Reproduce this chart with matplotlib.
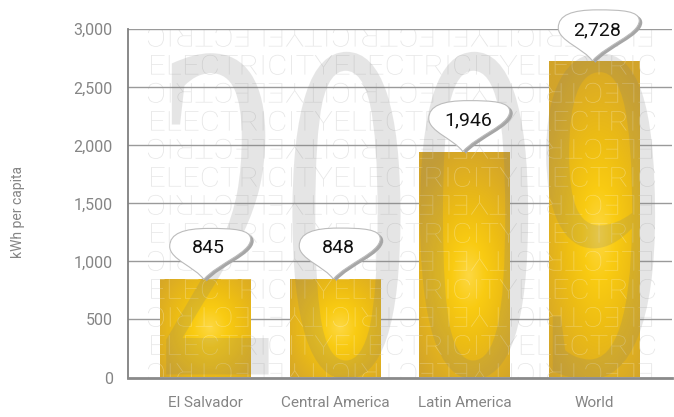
import numpy as np
import matplotlib
matplotlib.use("Agg")
import matplotlib.pyplot as plt
from matplotlib.path import Path
from matplotlib.patches import PathPatch
from matplotlib.textpath import TextPath
from matplotlib.font_manager import FontProperties
from matplotlib.colors import LinearSegmentedColormap
import matplotlib.transforms as mtransforms

categories = ["El Salvador", "Central America", "Latin America", "World"]
values = [845, 848, 1946, 2728]
yticks = [0, 500, 1000, 1500, 2000, 2500, 3000]
ytick_labels = ["0", "500", "1,000", "1,500", "2,000", "2,500", "3,000"]
value_labels = ["845", "848", "1,946", "2,728"]
ylabel = "kWh per capita"
watermark_word = "ELECTRICITY"
watermark_year = "2009"

plt.rcParams["font.family"] = ["Roboto", "DejaVu Sans"]

fig = plt.figure(figsize=(6.74, 4.17), dpi=100)
ax = fig.add_axes([128 / 674, 39.5 / 417, 544 / 674, 348.2 / 417])
ax.set_xlim(-0.6, 3.6)
ax.set_ylim(0, 3000)

gray = "#858585"
x = np.arange(len(categories))
bar_w = 0.70

# fit a path into a box given in data coords
def fit_path(path, x0, x1, y0, y1):
    v = path.vertices.copy()
    mn = v.min(axis=0)
    mx = v.max(axis=0)
    v[:, 0] = x0 + (v[:, 0] - mn[0]) / (mx[0] - mn[0]) * (x1 - x0)
    v[:, 1] = y0 + (v[:, 1] - mn[1]) / (mx[1] - mn[1]) * (y1 - y0)
    return Path(v, path.codes)

# background "ELECTRICITY" rows (normal and upside-down)
px = 1 / 0.116  # data units per pixel, vertically
wfont = FontProperties(family="Roboto", weight="light")
row_text = watermark_word * 2 + watermark_word[:8]
rows = []
tp = TextPath((0, 0), row_text, size=20, prop=wfont)
tp_flip = Path(-tp.vertices, tp.codes)
xa = (148 - 128) / 129.5 - 0.6
xb = (655 - 128) / 129.5 - 0.6
for k in range(13):
    yc_px = 37 + 28 * k
    yc = (377.5 - yc_px) * px
    src = tp if k % 2 == 1 else tp_flip
    rows.append(fit_path(src, xa, xb, yc - 10 * px, yc + 10 * px))
word_path = Path.make_compound_path(*rows)
ax.add_patch(PathPatch(word_path, facecolor="#e6e6e6", edgecolor="none", zorder=0.5))

# gridlines
for t in yticks[1:]:
    ax.axhline(t, color="#9a9a9a", lw=1.0, zorder=1)

# bars with gradient fill
cmap = LinearSegmentedColormap.from_list(
    "gold", ["#d2a42a", "#e0b020", "#edbd14", "#f9cb12", "#fdd843"])
bars = ax.bar(x, values, width=bar_w, color="none", edgecolor="none", zorder=2)
for b, v in zip(bars, values):
    bx = b.get_x()
    h_px = v * 0.116
    ny = max(int(h_px), 2)
    yy, xx = np.mgrid[0:1:ny * 1j, 0:1:90j]
    cy = 0.5 if h_px < 150 else 0.45
    ry = max(0.6, 80 / h_px)
    r = np.sqrt(((xx - 0.55) / 0.75) ** 2 + ((yy - cy) / ry) ** 2)
    z = np.clip(1 - r, 0, 1)
    im = ax.imshow(z, cmap=cmap, vmin=0, vmax=1, origin="lower", aspect="auto",
                   extent=(bx, bx + bar_w, 0, v), zorder=2, interpolation="bilinear")
    im.set_clip_path(b)
    over = PathPatch(word_path, facecolor="white", edgecolor="none", alpha=0.28, zorder=2.5)
    ax.add_patch(over)
    over.set_clip_path(b)

# big year, tinting what lies beneath
yfont = FontProperties(family="Liberation Serif")
yp = TextPath((0, 0), watermark_year, size=100, prop=yfont)
year_path = fit_path(yp, (155 - 128) / 129.5 - 0.6, (655 - 128) / 129.5 - 0.6,
                     -15, (377.5 - 52) * px)
ax.add_patch(PathPatch(year_path, facecolor="#7a7a7a", edgecolor="none", alpha=0.19, zorder=3))

# speech bubbles
V, C = Path.MOVETO, Path.CURVE4
bub_verts = [(0, 0),
             (-8, 12), (-34, 20), (-34, 33),
             (-34, 46), (-20, 51), (5, 51),
             (30, 51), (47, 50), (47, 40),
             (46, 26), (14, 16), (0, 0)]
bub_codes = [V] + [C] * 12
bubble = Path(bub_verts, bub_codes)
for xi, v, lab in zip(x, values, value_labels):
    tr = mtransforms.Affine2D().translate(-2, 0) + \
        mtransforms.ScaledTranslation(xi, v, ax.transData)
    sh = PathPatch(bubble, transform=mtransforms.Affine2D().translate(3, -2) + tr,
                   facecolor="#a6a6a6", edgecolor="none", zorder=4, clip_on=False)
    ax.add_patch(sh)
    bp = PathPatch(bubble, transform=tr, facecolor="white", edgecolor="#bcbcbc",
                   lw=0.8, zorder=5, clip_on=False)
    ax.add_patch(bp)
    ax.annotate(lab, (xi, v), xytext=(3, 31), textcoords="offset pixels",
                ha="center", va="center", fontsize=14, color="#111111",
                zorder=6, annotation_clip=False)

# axes styling
for s in ["top", "right"]:
    ax.spines[s].set_visible(False)
ax.spines["left"].set_color("#808080")
ax.spines["left"].set_linewidth(1.3)
ax.spines["bottom"].set_color("#8a8a8a")
ax.spines["bottom"].set_linewidth(2)
ax.spines["left"].set_zorder(6)
ax.spines["bottom"].set_zorder(6)
ax.set_yticks(yticks)
ax.set_yticklabels(ytick_labels)
ax.set_xticks(x)
ax.set_xticklabels(categories)
ax.tick_params(axis="y", length=0, pad=11, labelsize=11.5, labelcolor=gray)
ax.tick_params(axis="x", length=0, pad=13, labelsize=11, labelcolor=gray)
fig.text(18 / 674, 1 - 212 / 417, ylabel, rotation=90, ha="center", va="center",
         fontsize=10, color=gray)

fig.savefig("out.png", dpi=100)
